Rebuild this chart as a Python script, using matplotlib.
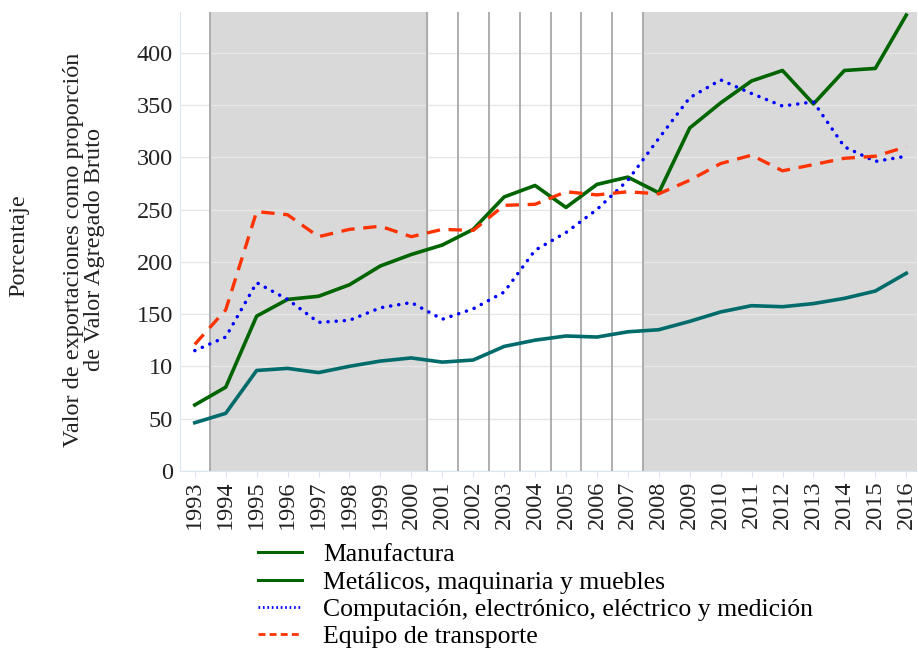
import matplotlib.pyplot as plt
from matplotlib.lines import Line2D

years = list(range(1993, 2017))

manufactura = [46, 55, 96, 98, 94, 100, 105, 108, 104, 106, 119, 125, 129, 128, 133,
               135, 143, 152, 158, 157, 160, 165, 172, 189]
metalicos = [63, 80, 148, 164, 167, 178, 196, 207, 216, 231, 262, 273, 252, 274, 281,
             266, 328, 352, 373, 383, 351, 383, 385, 436]
computacion = [115, 128, 180, 164, 142, 144, 156, 161, 145, 155, 171, 211, 228, 250, 278,
               318, 357, 374, 361, 349, 353, 310, 296, 301]
transporte = [121, 154, 248, 245, 224, 231, 234, 224, 231, 230, 254, 255, 267, 264, 267,
              265, 278, 294, 302, 287, 293, 299, 301, 310]

labels = ["Manufactura", "Metálicos, maquinaria y muebles",
          "Computación, electrónico, eléctrico y medición", "Equipo de transporte"]
yticks = [0, 50, 100, 150, 200, 250, 300, 350, 400]
ytick_labels = ["0", "50", "10", "150", "200", "250", "300", "350", "400"]

plt.rcParams['font.family'] = ['Liberation Serif', 'DejaVu Serif']

fig = plt.figure(figsize=(9.18, 6.65), dpi=100)
ax = fig.add_axes([0.196, 0.292, 0.803, 0.69])

# shaded periods and separators
ax.axvspan(1993.5, 2000.5, color='#d9d9d9', zorder=0)
ax.axvspan(2007.5, 2017, color='#d9d9d9', zorder=0)
for x in [1993.5, 2000.5, 2001.5, 2002.5, 2003.5, 2004.5, 2005.5, 2006.5, 2007.5]:
    ax.axvline(x, color='#a8a8a8', lw=1.3, zorder=1)
for y in yticks:
    ax.axhline(y, color='#e6e6e6', lw=1.0, zorder=0.5)

ax.plot(years, manufactura, color='#006b6b', lw=2.6, zorder=3)
ax.plot(years, metalicos, color='#006400', lw=2.6, zorder=3)
ax.plot(years, computacion, color='#0000ff', lw=2.5, ls=(0, (0.05, 2.3)),
        dash_capstyle='round', zorder=3)
ax.plot(years, transporte, color='#ff3300', lw=2.4, ls=(0, (4, 2.6)), zorder=3)

ax.set_xlim(1992.52, 2016.35)
ax.set_ylim(0, 439)
ax.set_yticks(yticks)
ax.set_yticklabels(ytick_labels, fontsize=17.5, color='#222222')
ax.set_xticks(years)
ax.set_xticklabels([str(y) for y in years], rotation=90, fontsize=17.5, color='#222222')
ax.tick_params(axis='y', length=0, pad=5)
ax.tick_params(axis='x', length=4, color='#dce6f2', pad=3)

for s in ['top', 'right']:
    ax.spines[s].set_visible(False)
ax.spines['left'].set_color('#dce6f2')
ax.spines['bottom'].set_color('#dce6f2')

fig.text(0.021, 0.63, "Porcentaje", rotation=90, ha='center', va='center',
         fontsize=17.5, color='#222222')
fig.text(0.091, 0.625, "Valor de exportaciones como proporción\nde Valor Agregado Bruto",
         rotation=90, ha='center', va='center', fontsize=17.5, color='#222222',
         linespacing=1.0)

handles = [
    Line2D([], [], color='#006400', lw=2.2),
    Line2D([], [], color='#006400', lw=2.2),
    Line2D([], [], color='#0000ff', lw=2.0, ls=(0, (0.6, 1.0))),
    Line2D([], [], color='#ff3300', lw=2.0, ls=(0, (2.5, 1.5))),
]
fig.legend(handles, labels, loc='upper left', bbox_to_anchor=(0.281, 0.183),
           frameon=False, fontsize=18.5, handlelength=1.7, handletextpad=0.85,
           labelspacing=0.17, borderaxespad=0, borderpad=0)

fig.savefig("out.png", dpi=100)
